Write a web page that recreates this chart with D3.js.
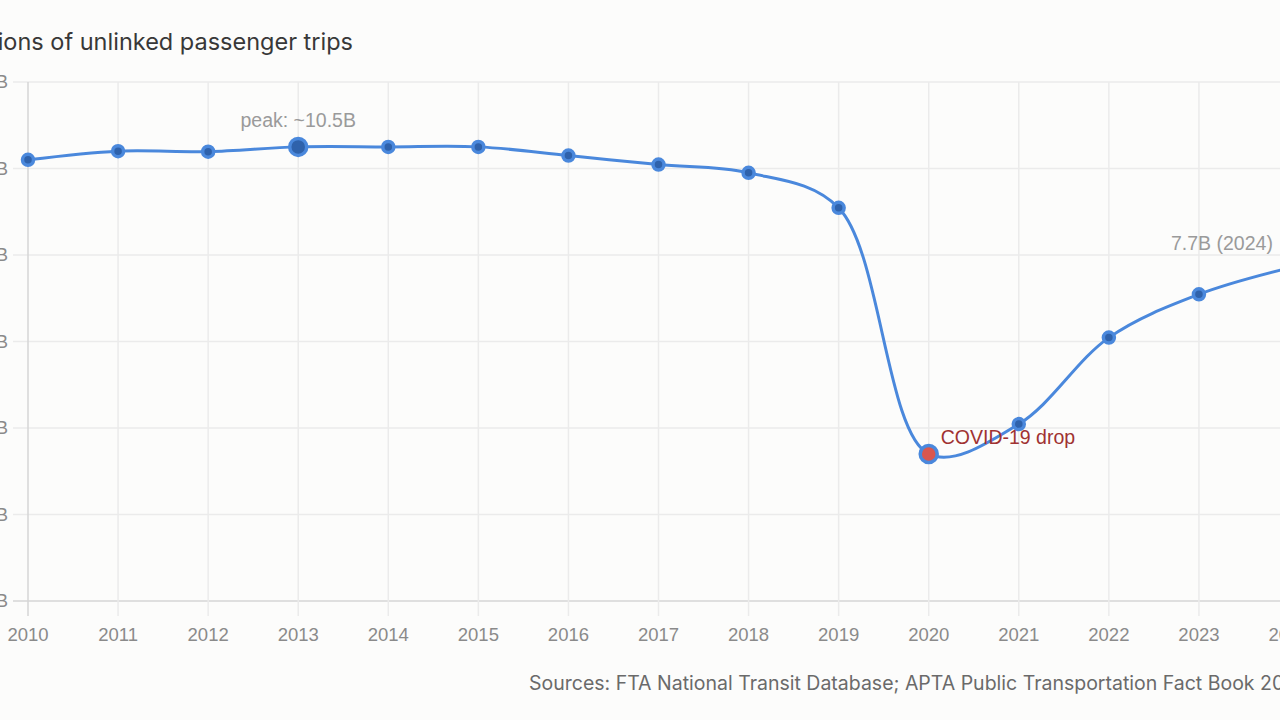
<!DOCTYPE html>
<html>
<head>
<meta charset="utf-8">
<script src="https://cdn.jsdelivr.net/npm/d3@7"></script>
<style>
  html, body { margin: 0; padding: 0; background: #fcfcfb; overflow: hidden; }
  svg { display: block; font-family: "Liberation Sans", Arial, Helvetica, sans-serif; }
  .ui { font-family: "Inter", "Liberation Sans", sans-serif; }
</style>
</head>
<body>
<svg id="chart" width="1280" height="720"></svg>
<script>
// transit ridership, billions of unlinked passenger trips
var years = [2010, 2011, 2012, 2013, 2014, 2015, 2016, 2017, 2018, 2019, 2020, 2021, 2022, 2023, 2024];
var trips = [10.2, 10.4, 10.39, 10.5, 10.5, 10.5, 10.3, 10.09, 9.9, 9.09, 3.4, 4.09, 6.09, 7.09, 7.7];
var yTicks = [0, 2, 4, 6, 8, 10, 12];
var peakYear = 2013;
var covidYear = 2020;

var svg = d3.select('#chart');

var xs = d3.scaleLinear().domain([2010, 2024]).range([28, 1289]);
var ys = d3.scaleLinear().domain([0, 12]).range([601, 82]);

var grid = svg.append('g');

// horizontal gridlines (extend left as tick marks)
grid.selectAll('line.h').data(yTicks).enter().append('line')
    .attr('x1', 13).attr('x2', 1300)
    .attr('y1', function (d) { return ys(d); })
    .attr('y2', function (d) { return ys(d); })
    .attr('stroke', function (d) { return d === 0 ? '#d6d6d6' : '#ebebeb'; })
    .attr('stroke-width', 1.5);

// vertical gridlines (extend below as tick marks)
grid.selectAll('line.v').data(years).enter().append('line')
    .attr('x1', function (d) { return xs(d); })
    .attr('x2', function (d) { return xs(d); })
    .attr('y1', ys(12)).attr('y2', 616)
    .attr('stroke', function (d, i) { return i === 0 ? '#d6d6d6' : '#ebebeb'; })
    .attr('stroke-width', 1.5);

// y labels
svg.append('g').selectAll('text').data(yTicks).enter().append('text')
    .attr('x', 8)
    .attr('y', function (d) { return ys(d) + 6; })
    .attr('text-anchor', 'end')
    .attr('fill', '#8a8a8a')
    .style('font-size', '18px')
    .text(function (d) { return d + 'B'; });

// x labels
svg.append('g').selectAll('text').data(years).enter().append('text')
    .attr('x', function (d) { return xs(d); })
    .attr('y', 641)
    .attr('text-anchor', 'middle')
    .attr('fill', '#8a8a8a')
    .style('font-size', '18.5px')
    .text(function (d) { return d; });

// title, partly cut off on the left
svg.append('text')
    .attr('class', 'ui')
    .attr('x', 353).attr('y', 50)
    .attr('text-anchor', 'end')
    .attr('fill', '#383838')
    .style('font-size', '23.5px')
    .text('Billions of unlinked passenger trips');

// source line
svg.append('text')
    .attr('class', 'ui')
    .attr('x', 529).attr('y', 690)
    .attr('fill', '#6a6a6a')
    .style('font-size', '19.5px')
    .text('Sources: FTA National Transit Database; APTA Public Transportation Fact Book 2025');

var line = d3.line()
    .x(function (d, i) { return xs(years[i]); })
    .y(function (d) { return ys(d); })
    .curve(d3.curveCatmullRom);

svg.append('path')
    .datum(trips)
    .attr('d', line)
    .attr('fill', 'none')
    .attr('stroke', '#4a88dc')
    .attr('stroke-width', 3);

svg.append('g').selectAll('circle').data(trips).enter().append('circle')
    .attr('cx', function (d, i) { return xs(years[i]); })
    .attr('cy', function (d) { return ys(d); })
    .attr('r', function (d, i) { return (years[i] === peakYear || years[i] === covidYear) ? 8.5 : 5.5; })
    .attr('fill', function (d, i) { return years[i] === covidYear ? '#d9574f' : '#2f62ab'; })
    .attr('stroke', '#4a88dc')
    .attr('stroke-width', 3.5);

// annotations
var peakIdx = years.indexOf(peakYear);
var covIdx = years.indexOf(covidYear);
var lastIdx = years.length - 1;

svg.append('text')
    .attr('x', xs(peakYear)).attr('y', ys(trips[peakIdx]) - 20)
    .attr('text-anchor', 'middle')
    .attr('fill', '#9a9a9a')
    .style('font-size', '19.5px')
    .text('peak: ~10.5B');

svg.append('text')
    .attr('x', xs(covidYear) + 12).attr('y', ys(trips[covIdx]) - 10)
    .attr('fill', '#a03232')
    .style('font-size', '19.5px')
    .text('COVID-19 drop');

svg.append('text')
    .attr('x', xs(years[lastIdx]) - 118).attr('y', ys(trips[lastIdx]) - 18)
    .attr('fill', '#9a9a9a')
    .style('font-size', '19.5px')
    .text('7.7B (' + years[lastIdx] + ')');
</script>
</body>
</html>
